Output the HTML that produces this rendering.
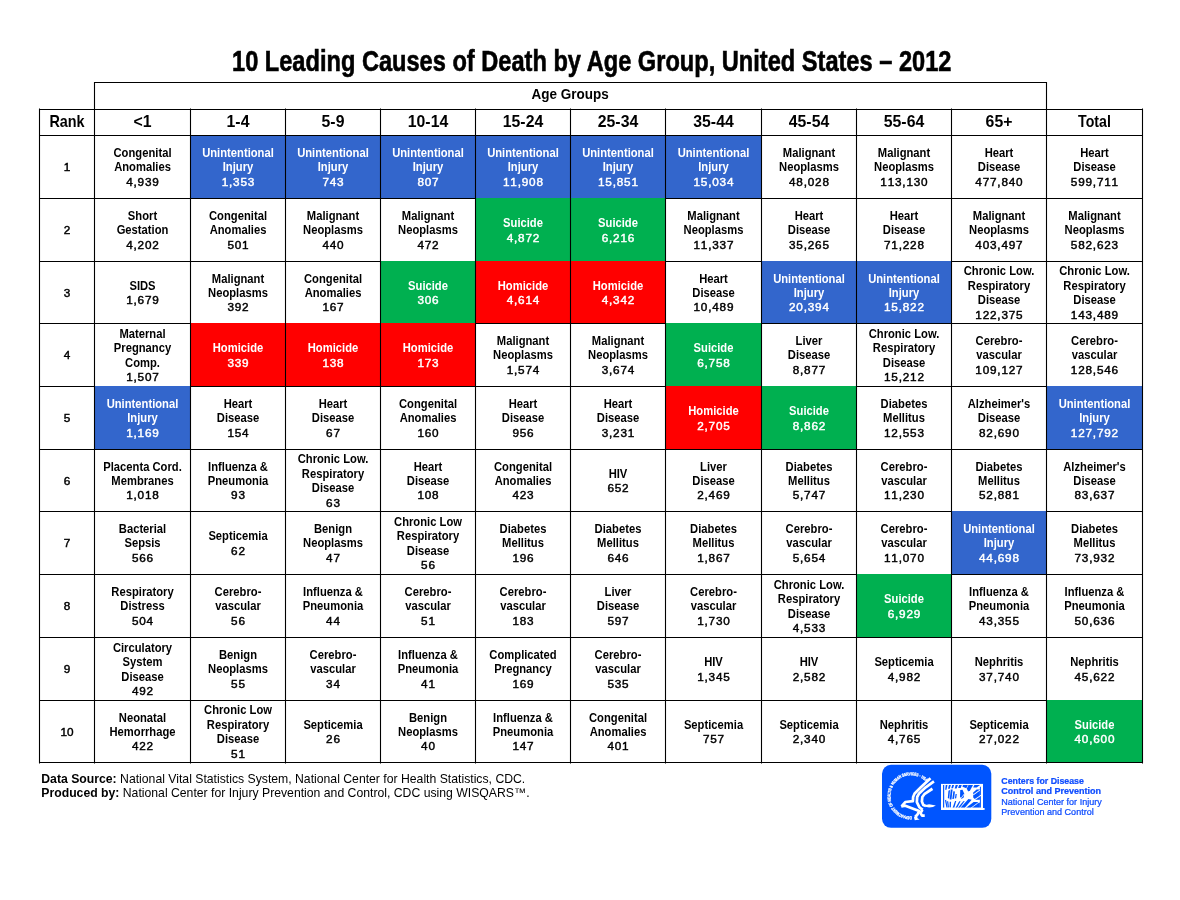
<!DOCTYPE html>
<html lang="en"><head><meta charset="utf-8"><title>10 Leading Causes of Death by Age Group, United States – 2012</title>
<style>html,body{margin:0;padding:0;background:#fff}body{width:1180px;height:900px;position:relative;overflow:hidden}</style></head>
<body>
<svg width="1180" height="900" viewBox="0 0 1180 900" style="position:absolute;left:0;top:0">
<rect width="1180" height="900" fill="#fff"/>
<g stroke="#000" stroke-width="1.1" fill="none">
<path d="M39.50 198.50 H1142.50"/>
<path d="M39.50 261.50 H1142.50"/>
<path d="M39.50 323.50 H1142.50"/>
<path d="M39.50 386.50 H1142.50"/>
<path d="M39.50 449.50 H1142.50"/>
<path d="M39.50 511.50 H1142.50"/>
<path d="M39.50 574.50 H1142.50"/>
<path d="M39.50 637.50 H1142.50"/>
<path d="M39.50 700.50 H1142.50"/>
<path d="M39.50 762.50 H1142.50"/>
</g>
<rect x="190.00" y="135.00" width="95.00" height="63.00" fill="#3366cc"/>
<rect x="285.00" y="135.00" width="95.00" height="63.00" fill="#3366cc"/>
<rect x="380.00" y="135.00" width="95.00" height="63.00" fill="#3366cc"/>
<rect x="475.00" y="135.00" width="95.00" height="63.00" fill="#3366cc"/>
<rect x="570.00" y="135.00" width="95.00" height="63.00" fill="#3366cc"/>
<rect x="665.00" y="135.00" width="96.00" height="63.00" fill="#3366cc"/>
<rect x="475.00" y="198.00" width="95.00" height="63.00" fill="#00b050"/>
<rect x="570.00" y="198.00" width="95.00" height="63.00" fill="#00b050"/>
<rect x="380.00" y="261.00" width="95.00" height="62.00" fill="#00b050"/>
<rect x="475.00" y="261.00" width="95.00" height="62.00" fill="#ff0000"/>
<rect x="570.00" y="261.00" width="95.00" height="62.00" fill="#ff0000"/>
<rect x="761.00" y="261.00" width="95.00" height="62.00" fill="#3366cc"/>
<rect x="856.00" y="261.00" width="95.00" height="62.00" fill="#3366cc"/>
<rect x="190.00" y="323.00" width="95.00" height="63.00" fill="#ff0000"/>
<rect x="285.00" y="323.00" width="95.00" height="63.00" fill="#ff0000"/>
<rect x="380.00" y="323.00" width="95.00" height="63.00" fill="#ff0000"/>
<rect x="665.00" y="323.00" width="96.00" height="63.00" fill="#00b050"/>
<rect x="94.00" y="386.00" width="96.00" height="63.00" fill="#3366cc"/>
<rect x="665.00" y="386.00" width="96.00" height="63.00" fill="#ff0000"/>
<rect x="761.00" y="386.00" width="95.00" height="63.00" fill="#00b050"/>
<rect x="1046.00" y="386.00" width="96.00" height="63.00" fill="#3366cc"/>
<rect x="951.00" y="511.00" width="95.00" height="63.00" fill="#3366cc"/>
<rect x="856.00" y="574.00" width="95.00" height="63.00" fill="#00b050"/>
<rect x="1046.00" y="700.00" width="96.00" height="62.00" fill="#00b050"/>
<g stroke="#000" stroke-width="1.1" fill="none">
<path d="M94.50 109.50 V82.50 H1046.50 V109.50"/>
<path d="M39.50 109.50 H1142.50"/>
<path d="M39.50 135.50 H1142.50"/>
<path d="M39.50 762.50 H1142.50"/>
<path d="M39.50 108.50 V763.50"/>
<path d="M94.50 108.50 V763.50"/>
<path d="M190.50 108.50 V763.50"/>
<path d="M285.50 108.50 V763.50"/>
<path d="M380.50 108.50 V763.50"/>
<path d="M475.50 108.50 V763.50"/>
<path d="M570.50 108.50 V763.50"/>
<path d="M665.50 108.50 V763.50"/>
<path d="M761.50 108.50 V763.50"/>
<path d="M856.50 108.50 V763.50"/>
<path d="M951.50 108.50 V763.50"/>
<path d="M1046.50 108.50 V763.50"/>
<path d="M1142.50 108.50 V763.50"/>
</g>
<g font-family="'Liberation Sans', Arial, sans-serif">
<text transform="translate(591.70 70.60) scale(0.820 1)" font-size="28.80" fill="#000" text-anchor="middle" font-weight="bold" stroke="#000" stroke-width="0.6">10 Leading Causes of Death by Age Group, United States – 2012</text>
<text transform="translate(570.20 99.30) scale(0.925 1)" font-size="14.60" fill="#000" text-anchor="middle" font-weight="bold">Age Groups</text>
<text transform="translate(67.00 126.60) scale(0.900 1)" font-size="16.00" fill="#000" text-anchor="middle" font-weight="bold">Rank</text>
<text transform="translate(142.50 126.70) scale(0.970 1)" font-size="16.30" fill="#000" text-anchor="middle" font-weight="bold" style="font-kerning:none">&lt;1</text>
<text transform="translate(238.00 126.70) scale(0.970 1)" font-size="16.30" fill="#000" text-anchor="middle" font-weight="bold" style="font-kerning:none">1-4</text>
<text transform="translate(333.00 126.70) scale(0.970 1)" font-size="16.30" fill="#000" text-anchor="middle" font-weight="bold" style="font-kerning:none">5-9</text>
<text transform="translate(428.00 126.70) scale(0.970 1)" font-size="16.30" fill="#000" text-anchor="middle" font-weight="bold" style="font-kerning:none">10-14</text>
<text transform="translate(523.00 126.70) scale(0.970 1)" font-size="16.30" fill="#000" text-anchor="middle" font-weight="bold" style="font-kerning:none">15-24</text>
<text transform="translate(618.00 126.70) scale(0.970 1)" font-size="16.30" fill="#000" text-anchor="middle" font-weight="bold" style="font-kerning:none">25-34</text>
<text transform="translate(713.50 126.70) scale(0.970 1)" font-size="16.30" fill="#000" text-anchor="middle" font-weight="bold" style="font-kerning:none">35-44</text>
<text transform="translate(809.00 126.70) scale(0.970 1)" font-size="16.30" fill="#000" text-anchor="middle" font-weight="bold" style="font-kerning:none">45-54</text>
<text transform="translate(904.00 126.70) scale(0.970 1)" font-size="16.30" fill="#000" text-anchor="middle" font-weight="bold" style="font-kerning:none">55-64</text>
<text transform="translate(999.00 126.70) scale(0.970 1)" font-size="16.30" fill="#000" text-anchor="middle" font-weight="bold" style="font-kerning:none">65+</text>
<text transform="translate(1094.50 126.60) scale(0.886 1)" font-size="16.00" fill="#000" text-anchor="middle" font-weight="bold">Total</text>
<text transform="translate(67.00 171.25) scale(1.020 1)" font-size="11.55" fill="#000" text-anchor="middle" font-weight="normal" stroke="#000" stroke-width="0.45" style="font-kerning:none">1</text>
<text transform="translate(142.50 157.00) scale(0.920 1)" font-size="12.20" fill="#000" text-anchor="middle" font-weight="bold">Congenital</text>
<text transform="translate(142.50 171.45) scale(0.920 1)" font-size="12.20" fill="#000" text-anchor="middle" font-weight="bold">Anomalies</text>
<text transform="translate(142.90 185.90) scale(1.020 1)" font-size="11.55" fill="#000" text-anchor="middle" font-weight="normal" stroke="#000" stroke-width="0.45" letter-spacing="0.78" style="font-kerning:none">4,939</text>
<text transform="translate(238.00 157.00) scale(0.920 1)" font-size="12.20" fill="#fff" text-anchor="middle" font-weight="bold">Unintentional</text>
<text transform="translate(238.00 171.45) scale(0.920 1)" font-size="12.20" fill="#fff" text-anchor="middle" font-weight="bold">Injury</text>
<text transform="translate(238.40 185.90) scale(1.020 1)" font-size="11.55" fill="#fff" text-anchor="middle" font-weight="normal" stroke="#fff" stroke-width="0.45" letter-spacing="0.78" style="font-kerning:none">1,353</text>
<text transform="translate(333.00 157.00) scale(0.920 1)" font-size="12.20" fill="#fff" text-anchor="middle" font-weight="bold">Unintentional</text>
<text transform="translate(333.00 171.45) scale(0.920 1)" font-size="12.20" fill="#fff" text-anchor="middle" font-weight="bold">Injury</text>
<text transform="translate(333.40 185.90) scale(1.020 1)" font-size="11.55" fill="#fff" text-anchor="middle" font-weight="normal" stroke="#fff" stroke-width="0.45" letter-spacing="0.78" style="font-kerning:none">743</text>
<text transform="translate(428.00 157.00) scale(0.920 1)" font-size="12.20" fill="#fff" text-anchor="middle" font-weight="bold">Unintentional</text>
<text transform="translate(428.00 171.45) scale(0.920 1)" font-size="12.20" fill="#fff" text-anchor="middle" font-weight="bold">Injury</text>
<text transform="translate(428.40 185.90) scale(1.020 1)" font-size="11.55" fill="#fff" text-anchor="middle" font-weight="normal" stroke="#fff" stroke-width="0.45" letter-spacing="0.78" style="font-kerning:none">807</text>
<text transform="translate(523.00 157.00) scale(0.920 1)" font-size="12.20" fill="#fff" text-anchor="middle" font-weight="bold">Unintentional</text>
<text transform="translate(523.00 171.45) scale(0.920 1)" font-size="12.20" fill="#fff" text-anchor="middle" font-weight="bold">Injury</text>
<text transform="translate(523.40 185.90) scale(1.020 1)" font-size="11.55" fill="#fff" text-anchor="middle" font-weight="normal" stroke="#fff" stroke-width="0.45" letter-spacing="0.78" style="font-kerning:none">11,908</text>
<text transform="translate(618.00 157.00) scale(0.920 1)" font-size="12.20" fill="#fff" text-anchor="middle" font-weight="bold">Unintentional</text>
<text transform="translate(618.00 171.45) scale(0.920 1)" font-size="12.20" fill="#fff" text-anchor="middle" font-weight="bold">Injury</text>
<text transform="translate(618.40 185.90) scale(1.020 1)" font-size="11.55" fill="#fff" text-anchor="middle" font-weight="normal" stroke="#fff" stroke-width="0.45" letter-spacing="0.78" style="font-kerning:none">15,851</text>
<text transform="translate(713.50 157.00) scale(0.920 1)" font-size="12.20" fill="#fff" text-anchor="middle" font-weight="bold">Unintentional</text>
<text transform="translate(713.50 171.45) scale(0.920 1)" font-size="12.20" fill="#fff" text-anchor="middle" font-weight="bold">Injury</text>
<text transform="translate(713.90 185.90) scale(1.020 1)" font-size="11.55" fill="#fff" text-anchor="middle" font-weight="normal" stroke="#fff" stroke-width="0.45" letter-spacing="0.78" style="font-kerning:none">15,034</text>
<text transform="translate(809.00 157.00) scale(0.920 1)" font-size="12.20" fill="#000" text-anchor="middle" font-weight="bold">Malignant</text>
<text transform="translate(809.00 171.45) scale(0.920 1)" font-size="12.20" fill="#000" text-anchor="middle" font-weight="bold">Neoplasms</text>
<text transform="translate(809.40 185.90) scale(1.020 1)" font-size="11.55" fill="#000" text-anchor="middle" font-weight="normal" stroke="#000" stroke-width="0.45" letter-spacing="0.78" style="font-kerning:none">48,028</text>
<text transform="translate(904.00 157.00) scale(0.920 1)" font-size="12.20" fill="#000" text-anchor="middle" font-weight="bold">Malignant</text>
<text transform="translate(904.00 171.45) scale(0.920 1)" font-size="12.20" fill="#000" text-anchor="middle" font-weight="bold">Neoplasms</text>
<text transform="translate(904.40 185.90) scale(1.020 1)" font-size="11.55" fill="#000" text-anchor="middle" font-weight="normal" stroke="#000" stroke-width="0.45" letter-spacing="0.78" style="font-kerning:none">113,130</text>
<text transform="translate(999.00 157.00) scale(0.920 1)" font-size="12.20" fill="#000" text-anchor="middle" font-weight="bold">Heart</text>
<text transform="translate(999.00 171.45) scale(0.920 1)" font-size="12.20" fill="#000" text-anchor="middle" font-weight="bold">Disease</text>
<text transform="translate(999.40 185.90) scale(1.020 1)" font-size="11.55" fill="#000" text-anchor="middle" font-weight="normal" stroke="#000" stroke-width="0.45" letter-spacing="0.78" style="font-kerning:none">477,840</text>
<text transform="translate(1094.50 157.00) scale(0.920 1)" font-size="12.20" fill="#000" text-anchor="middle" font-weight="bold">Heart</text>
<text transform="translate(1094.50 171.45) scale(0.920 1)" font-size="12.20" fill="#000" text-anchor="middle" font-weight="bold">Disease</text>
<text transform="translate(1094.90 185.90) scale(1.020 1)" font-size="11.55" fill="#000" text-anchor="middle" font-weight="normal" stroke="#000" stroke-width="0.45" letter-spacing="0.78" style="font-kerning:none">599,711</text>
<text transform="translate(67.00 234.25) scale(1.020 1)" font-size="11.55" fill="#000" text-anchor="middle" font-weight="normal" stroke="#000" stroke-width="0.45" style="font-kerning:none">2</text>
<text transform="translate(142.50 220.00) scale(0.920 1)" font-size="12.20" fill="#000" text-anchor="middle" font-weight="bold">Short</text>
<text transform="translate(142.50 234.45) scale(0.920 1)" font-size="12.20" fill="#000" text-anchor="middle" font-weight="bold">Gestation</text>
<text transform="translate(142.90 248.90) scale(1.020 1)" font-size="11.55" fill="#000" text-anchor="middle" font-weight="normal" stroke="#000" stroke-width="0.45" letter-spacing="0.78" style="font-kerning:none">4,202</text>
<text transform="translate(238.00 220.00) scale(0.920 1)" font-size="12.20" fill="#000" text-anchor="middle" font-weight="bold">Congenital</text>
<text transform="translate(238.00 234.45) scale(0.920 1)" font-size="12.20" fill="#000" text-anchor="middle" font-weight="bold">Anomalies</text>
<text transform="translate(238.40 248.90) scale(1.020 1)" font-size="11.55" fill="#000" text-anchor="middle" font-weight="normal" stroke="#000" stroke-width="0.45" letter-spacing="0.78" style="font-kerning:none">501</text>
<text transform="translate(333.00 220.00) scale(0.920 1)" font-size="12.20" fill="#000" text-anchor="middle" font-weight="bold">Malignant</text>
<text transform="translate(333.00 234.45) scale(0.920 1)" font-size="12.20" fill="#000" text-anchor="middle" font-weight="bold">Neoplasms</text>
<text transform="translate(333.40 248.90) scale(1.020 1)" font-size="11.55" fill="#000" text-anchor="middle" font-weight="normal" stroke="#000" stroke-width="0.45" letter-spacing="0.78" style="font-kerning:none">440</text>
<text transform="translate(428.00 220.00) scale(0.920 1)" font-size="12.20" fill="#000" text-anchor="middle" font-weight="bold">Malignant</text>
<text transform="translate(428.00 234.45) scale(0.920 1)" font-size="12.20" fill="#000" text-anchor="middle" font-weight="bold">Neoplasms</text>
<text transform="translate(428.40 248.90) scale(1.020 1)" font-size="11.55" fill="#000" text-anchor="middle" font-weight="normal" stroke="#000" stroke-width="0.45" letter-spacing="0.78" style="font-kerning:none">472</text>
<text transform="translate(523.00 227.22) scale(0.920 1)" font-size="12.20" fill="#fff" text-anchor="middle" font-weight="bold">Suicide</text>
<text transform="translate(523.40 241.67) scale(1.020 1)" font-size="11.55" fill="#fff" text-anchor="middle" font-weight="normal" stroke="#fff" stroke-width="0.45" letter-spacing="0.78" style="font-kerning:none">4,872</text>
<text transform="translate(618.00 227.22) scale(0.920 1)" font-size="12.20" fill="#fff" text-anchor="middle" font-weight="bold">Suicide</text>
<text transform="translate(618.40 241.67) scale(1.020 1)" font-size="11.55" fill="#fff" text-anchor="middle" font-weight="normal" stroke="#fff" stroke-width="0.45" letter-spacing="0.78" style="font-kerning:none">6,216</text>
<text transform="translate(713.50 220.00) scale(0.920 1)" font-size="12.20" fill="#000" text-anchor="middle" font-weight="bold">Malignant</text>
<text transform="translate(713.50 234.45) scale(0.920 1)" font-size="12.20" fill="#000" text-anchor="middle" font-weight="bold">Neoplasms</text>
<text transform="translate(713.90 248.90) scale(1.020 1)" font-size="11.55" fill="#000" text-anchor="middle" font-weight="normal" stroke="#000" stroke-width="0.45" letter-spacing="0.78" style="font-kerning:none">11,337</text>
<text transform="translate(809.00 220.00) scale(0.920 1)" font-size="12.20" fill="#000" text-anchor="middle" font-weight="bold">Heart</text>
<text transform="translate(809.00 234.45) scale(0.920 1)" font-size="12.20" fill="#000" text-anchor="middle" font-weight="bold">Disease</text>
<text transform="translate(809.40 248.90) scale(1.020 1)" font-size="11.55" fill="#000" text-anchor="middle" font-weight="normal" stroke="#000" stroke-width="0.45" letter-spacing="0.78" style="font-kerning:none">35,265</text>
<text transform="translate(904.00 220.00) scale(0.920 1)" font-size="12.20" fill="#000" text-anchor="middle" font-weight="bold">Heart</text>
<text transform="translate(904.00 234.45) scale(0.920 1)" font-size="12.20" fill="#000" text-anchor="middle" font-weight="bold">Disease</text>
<text transform="translate(904.40 248.90) scale(1.020 1)" font-size="11.55" fill="#000" text-anchor="middle" font-weight="normal" stroke="#000" stroke-width="0.45" letter-spacing="0.78" style="font-kerning:none">71,228</text>
<text transform="translate(999.00 220.00) scale(0.920 1)" font-size="12.20" fill="#000" text-anchor="middle" font-weight="bold">Malignant</text>
<text transform="translate(999.00 234.45) scale(0.920 1)" font-size="12.20" fill="#000" text-anchor="middle" font-weight="bold">Neoplasms</text>
<text transform="translate(999.40 248.90) scale(1.020 1)" font-size="11.55" fill="#000" text-anchor="middle" font-weight="normal" stroke="#000" stroke-width="0.45" letter-spacing="0.78" style="font-kerning:none">403,497</text>
<text transform="translate(1094.50 220.00) scale(0.920 1)" font-size="12.20" fill="#000" text-anchor="middle" font-weight="bold">Malignant</text>
<text transform="translate(1094.50 234.45) scale(0.920 1)" font-size="12.20" fill="#000" text-anchor="middle" font-weight="bold">Neoplasms</text>
<text transform="translate(1094.90 248.90) scale(1.020 1)" font-size="11.55" fill="#000" text-anchor="middle" font-weight="normal" stroke="#000" stroke-width="0.45" letter-spacing="0.78" style="font-kerning:none">582,623</text>
<text transform="translate(67.00 296.75) scale(1.020 1)" font-size="11.55" fill="#000" text-anchor="middle" font-weight="normal" stroke="#000" stroke-width="0.45" style="font-kerning:none">3</text>
<text transform="translate(142.50 289.72) scale(0.920 1)" font-size="12.20" fill="#000" text-anchor="middle" font-weight="bold">SIDS</text>
<text transform="translate(142.90 304.17) scale(1.020 1)" font-size="11.55" fill="#000" text-anchor="middle" font-weight="normal" stroke="#000" stroke-width="0.45" letter-spacing="0.78" style="font-kerning:none">1,679</text>
<text transform="translate(238.00 282.50) scale(0.920 1)" font-size="12.20" fill="#000" text-anchor="middle" font-weight="bold">Malignant</text>
<text transform="translate(238.00 296.95) scale(0.920 1)" font-size="12.20" fill="#000" text-anchor="middle" font-weight="bold">Neoplasms</text>
<text transform="translate(238.40 311.40) scale(1.020 1)" font-size="11.55" fill="#000" text-anchor="middle" font-weight="normal" stroke="#000" stroke-width="0.45" letter-spacing="0.78" style="font-kerning:none">392</text>
<text transform="translate(333.00 282.50) scale(0.920 1)" font-size="12.20" fill="#000" text-anchor="middle" font-weight="bold">Congenital</text>
<text transform="translate(333.00 296.95) scale(0.920 1)" font-size="12.20" fill="#000" text-anchor="middle" font-weight="bold">Anomalies</text>
<text transform="translate(333.40 311.40) scale(1.020 1)" font-size="11.55" fill="#000" text-anchor="middle" font-weight="normal" stroke="#000" stroke-width="0.45" letter-spacing="0.78" style="font-kerning:none">167</text>
<text transform="translate(428.00 289.72) scale(0.920 1)" font-size="12.20" fill="#fff" text-anchor="middle" font-weight="bold">Suicide</text>
<text transform="translate(428.40 304.17) scale(1.020 1)" font-size="11.55" fill="#fff" text-anchor="middle" font-weight="normal" stroke="#fff" stroke-width="0.45" letter-spacing="0.78" style="font-kerning:none">306</text>
<text transform="translate(523.00 289.72) scale(0.920 1)" font-size="12.20" fill="#fff" text-anchor="middle" font-weight="bold">Homicide</text>
<text transform="translate(523.40 304.17) scale(1.020 1)" font-size="11.55" fill="#fff" text-anchor="middle" font-weight="normal" stroke="#fff" stroke-width="0.45" letter-spacing="0.78" style="font-kerning:none">4,614</text>
<text transform="translate(618.00 289.72) scale(0.920 1)" font-size="12.20" fill="#fff" text-anchor="middle" font-weight="bold">Homicide</text>
<text transform="translate(618.40 304.17) scale(1.020 1)" font-size="11.55" fill="#fff" text-anchor="middle" font-weight="normal" stroke="#fff" stroke-width="0.45" letter-spacing="0.78" style="font-kerning:none">4,342</text>
<text transform="translate(713.50 282.50) scale(0.920 1)" font-size="12.20" fill="#000" text-anchor="middle" font-weight="bold">Heart</text>
<text transform="translate(713.50 296.95) scale(0.920 1)" font-size="12.20" fill="#000" text-anchor="middle" font-weight="bold">Disease</text>
<text transform="translate(713.90 311.40) scale(1.020 1)" font-size="11.55" fill="#000" text-anchor="middle" font-weight="normal" stroke="#000" stroke-width="0.45" letter-spacing="0.78" style="font-kerning:none">10,489</text>
<text transform="translate(809.00 282.50) scale(0.920 1)" font-size="12.20" fill="#fff" text-anchor="middle" font-weight="bold">Unintentional</text>
<text transform="translate(809.00 296.95) scale(0.920 1)" font-size="12.20" fill="#fff" text-anchor="middle" font-weight="bold">Injury</text>
<text transform="translate(809.40 311.40) scale(1.020 1)" font-size="11.55" fill="#fff" text-anchor="middle" font-weight="normal" stroke="#fff" stroke-width="0.45" letter-spacing="0.78" style="font-kerning:none">20,394</text>
<text transform="translate(904.00 282.50) scale(0.920 1)" font-size="12.20" fill="#fff" text-anchor="middle" font-weight="bold">Unintentional</text>
<text transform="translate(904.00 296.95) scale(0.920 1)" font-size="12.20" fill="#fff" text-anchor="middle" font-weight="bold">Injury</text>
<text transform="translate(904.40 311.40) scale(1.020 1)" font-size="11.55" fill="#fff" text-anchor="middle" font-weight="normal" stroke="#fff" stroke-width="0.45" letter-spacing="0.78" style="font-kerning:none">15,822</text>
<text transform="translate(999.00 275.27) scale(0.920 1)" font-size="12.20" fill="#000" text-anchor="middle" font-weight="bold">Chronic Low.</text>
<text transform="translate(999.00 289.72) scale(0.920 1)" font-size="12.20" fill="#000" text-anchor="middle" font-weight="bold">Respiratory</text>
<text transform="translate(999.00 304.17) scale(0.920 1)" font-size="12.20" fill="#000" text-anchor="middle" font-weight="bold">Disease</text>
<text transform="translate(999.40 318.62) scale(1.020 1)" font-size="11.55" fill="#000" text-anchor="middle" font-weight="normal" stroke="#000" stroke-width="0.45" letter-spacing="0.78" style="font-kerning:none">122,375</text>
<text transform="translate(1094.50 275.27) scale(0.920 1)" font-size="12.20" fill="#000" text-anchor="middle" font-weight="bold">Chronic Low.</text>
<text transform="translate(1094.50 289.72) scale(0.920 1)" font-size="12.20" fill="#000" text-anchor="middle" font-weight="bold">Respiratory</text>
<text transform="translate(1094.50 304.17) scale(0.920 1)" font-size="12.20" fill="#000" text-anchor="middle" font-weight="bold">Disease</text>
<text transform="translate(1094.90 318.62) scale(1.020 1)" font-size="11.55" fill="#000" text-anchor="middle" font-weight="normal" stroke="#000" stroke-width="0.45" letter-spacing="0.78" style="font-kerning:none">143,489</text>
<text transform="translate(67.00 359.25) scale(1.020 1)" font-size="11.55" fill="#000" text-anchor="middle" font-weight="normal" stroke="#000" stroke-width="0.45" style="font-kerning:none">4</text>
<text transform="translate(142.50 337.77) scale(0.920 1)" font-size="12.20" fill="#000" text-anchor="middle" font-weight="bold">Maternal</text>
<text transform="translate(142.50 352.22) scale(0.920 1)" font-size="12.20" fill="#000" text-anchor="middle" font-weight="bold">Pregnancy</text>
<text transform="translate(142.50 366.67) scale(0.920 1)" font-size="12.20" fill="#000" text-anchor="middle" font-weight="bold">Comp.</text>
<text transform="translate(142.90 381.12) scale(1.020 1)" font-size="11.55" fill="#000" text-anchor="middle" font-weight="normal" stroke="#000" stroke-width="0.45" letter-spacing="0.78" style="font-kerning:none">1,507</text>
<text transform="translate(238.00 352.22) scale(0.920 1)" font-size="12.20" fill="#fff" text-anchor="middle" font-weight="bold">Homicide</text>
<text transform="translate(238.40 366.67) scale(1.020 1)" font-size="11.55" fill="#fff" text-anchor="middle" font-weight="normal" stroke="#fff" stroke-width="0.45" letter-spacing="0.78" style="font-kerning:none">339</text>
<text transform="translate(333.00 352.22) scale(0.920 1)" font-size="12.20" fill="#fff" text-anchor="middle" font-weight="bold">Homicide</text>
<text transform="translate(333.40 366.67) scale(1.020 1)" font-size="11.55" fill="#fff" text-anchor="middle" font-weight="normal" stroke="#fff" stroke-width="0.45" letter-spacing="0.78" style="font-kerning:none">138</text>
<text transform="translate(428.00 352.22) scale(0.920 1)" font-size="12.20" fill="#fff" text-anchor="middle" font-weight="bold">Homicide</text>
<text transform="translate(428.40 366.67) scale(1.020 1)" font-size="11.55" fill="#fff" text-anchor="middle" font-weight="normal" stroke="#fff" stroke-width="0.45" letter-spacing="0.78" style="font-kerning:none">173</text>
<text transform="translate(523.00 345.00) scale(0.920 1)" font-size="12.20" fill="#000" text-anchor="middle" font-weight="bold">Malignant</text>
<text transform="translate(523.00 359.45) scale(0.920 1)" font-size="12.20" fill="#000" text-anchor="middle" font-weight="bold">Neoplasms</text>
<text transform="translate(523.40 373.90) scale(1.020 1)" font-size="11.55" fill="#000" text-anchor="middle" font-weight="normal" stroke="#000" stroke-width="0.45" letter-spacing="0.78" style="font-kerning:none">1,574</text>
<text transform="translate(618.00 345.00) scale(0.920 1)" font-size="12.20" fill="#000" text-anchor="middle" font-weight="bold">Malignant</text>
<text transform="translate(618.00 359.45) scale(0.920 1)" font-size="12.20" fill="#000" text-anchor="middle" font-weight="bold">Neoplasms</text>
<text transform="translate(618.40 373.90) scale(1.020 1)" font-size="11.55" fill="#000" text-anchor="middle" font-weight="normal" stroke="#000" stroke-width="0.45" letter-spacing="0.78" style="font-kerning:none">3,674</text>
<text transform="translate(713.50 352.22) scale(0.920 1)" font-size="12.20" fill="#fff" text-anchor="middle" font-weight="bold">Suicide</text>
<text transform="translate(713.90 366.67) scale(1.020 1)" font-size="11.55" fill="#fff" text-anchor="middle" font-weight="normal" stroke="#fff" stroke-width="0.45" letter-spacing="0.78" style="font-kerning:none">6,758</text>
<text transform="translate(809.00 345.00) scale(0.920 1)" font-size="12.20" fill="#000" text-anchor="middle" font-weight="bold">Liver</text>
<text transform="translate(809.00 359.45) scale(0.920 1)" font-size="12.20" fill="#000" text-anchor="middle" font-weight="bold">Disease</text>
<text transform="translate(809.40 373.90) scale(1.020 1)" font-size="11.55" fill="#000" text-anchor="middle" font-weight="normal" stroke="#000" stroke-width="0.45" letter-spacing="0.78" style="font-kerning:none">8,877</text>
<text transform="translate(904.00 337.77) scale(0.920 1)" font-size="12.20" fill="#000" text-anchor="middle" font-weight="bold">Chronic Low.</text>
<text transform="translate(904.00 352.22) scale(0.920 1)" font-size="12.20" fill="#000" text-anchor="middle" font-weight="bold">Respiratory</text>
<text transform="translate(904.00 366.67) scale(0.920 1)" font-size="12.20" fill="#000" text-anchor="middle" font-weight="bold">Disease</text>
<text transform="translate(904.40 381.12) scale(1.020 1)" font-size="11.55" fill="#000" text-anchor="middle" font-weight="normal" stroke="#000" stroke-width="0.45" letter-spacing="0.78" style="font-kerning:none">15,212</text>
<text transform="translate(999.00 345.00) scale(0.920 1)" font-size="12.20" fill="#000" text-anchor="middle" font-weight="bold">Cerebro-</text>
<text transform="translate(999.00 359.45) scale(0.920 1)" font-size="12.20" fill="#000" text-anchor="middle" font-weight="bold">vascular</text>
<text transform="translate(999.40 373.90) scale(1.020 1)" font-size="11.55" fill="#000" text-anchor="middle" font-weight="normal" stroke="#000" stroke-width="0.45" letter-spacing="0.78" style="font-kerning:none">109,127</text>
<text transform="translate(1094.50 345.00) scale(0.920 1)" font-size="12.20" fill="#000" text-anchor="middle" font-weight="bold">Cerebro-</text>
<text transform="translate(1094.50 359.45) scale(0.920 1)" font-size="12.20" fill="#000" text-anchor="middle" font-weight="bold">vascular</text>
<text transform="translate(1094.90 373.90) scale(1.020 1)" font-size="11.55" fill="#000" text-anchor="middle" font-weight="normal" stroke="#000" stroke-width="0.45" letter-spacing="0.78" style="font-kerning:none">128,546</text>
<text transform="translate(67.00 422.25) scale(1.020 1)" font-size="11.55" fill="#000" text-anchor="middle" font-weight="normal" stroke="#000" stroke-width="0.45" style="font-kerning:none">5</text>
<text transform="translate(142.50 408.00) scale(0.920 1)" font-size="12.20" fill="#fff" text-anchor="middle" font-weight="bold">Unintentional</text>
<text transform="translate(142.50 422.45) scale(0.920 1)" font-size="12.20" fill="#fff" text-anchor="middle" font-weight="bold">Injury</text>
<text transform="translate(142.90 436.90) scale(1.020 1)" font-size="11.55" fill="#fff" text-anchor="middle" font-weight="normal" stroke="#fff" stroke-width="0.45" letter-spacing="0.78" style="font-kerning:none">1,169</text>
<text transform="translate(238.00 408.00) scale(0.920 1)" font-size="12.20" fill="#000" text-anchor="middle" font-weight="bold">Heart</text>
<text transform="translate(238.00 422.45) scale(0.920 1)" font-size="12.20" fill="#000" text-anchor="middle" font-weight="bold">Disease</text>
<text transform="translate(238.40 436.90) scale(1.020 1)" font-size="11.55" fill="#000" text-anchor="middle" font-weight="normal" stroke="#000" stroke-width="0.45" letter-spacing="0.78" style="font-kerning:none">154</text>
<text transform="translate(333.00 408.00) scale(0.920 1)" font-size="12.20" fill="#000" text-anchor="middle" font-weight="bold">Heart</text>
<text transform="translate(333.00 422.45) scale(0.920 1)" font-size="12.20" fill="#000" text-anchor="middle" font-weight="bold">Disease</text>
<text transform="translate(333.40 436.90) scale(1.020 1)" font-size="11.55" fill="#000" text-anchor="middle" font-weight="normal" stroke="#000" stroke-width="0.45" letter-spacing="0.78" style="font-kerning:none">67</text>
<text transform="translate(428.00 408.00) scale(0.920 1)" font-size="12.20" fill="#000" text-anchor="middle" font-weight="bold">Congenital</text>
<text transform="translate(428.00 422.45) scale(0.920 1)" font-size="12.20" fill="#000" text-anchor="middle" font-weight="bold">Anomalies</text>
<text transform="translate(428.40 436.90) scale(1.020 1)" font-size="11.55" fill="#000" text-anchor="middle" font-weight="normal" stroke="#000" stroke-width="0.45" letter-spacing="0.78" style="font-kerning:none">160</text>
<text transform="translate(523.00 408.00) scale(0.920 1)" font-size="12.20" fill="#000" text-anchor="middle" font-weight="bold">Heart</text>
<text transform="translate(523.00 422.45) scale(0.920 1)" font-size="12.20" fill="#000" text-anchor="middle" font-weight="bold">Disease</text>
<text transform="translate(523.40 436.90) scale(1.020 1)" font-size="11.55" fill="#000" text-anchor="middle" font-weight="normal" stroke="#000" stroke-width="0.45" letter-spacing="0.78" style="font-kerning:none">956</text>
<text transform="translate(618.00 408.00) scale(0.920 1)" font-size="12.20" fill="#000" text-anchor="middle" font-weight="bold">Heart</text>
<text transform="translate(618.00 422.45) scale(0.920 1)" font-size="12.20" fill="#000" text-anchor="middle" font-weight="bold">Disease</text>
<text transform="translate(618.40 436.90) scale(1.020 1)" font-size="11.55" fill="#000" text-anchor="middle" font-weight="normal" stroke="#000" stroke-width="0.45" letter-spacing="0.78" style="font-kerning:none">3,231</text>
<text transform="translate(713.50 415.22) scale(0.920 1)" font-size="12.20" fill="#fff" text-anchor="middle" font-weight="bold">Homicide</text>
<text transform="translate(713.90 429.67) scale(1.020 1)" font-size="11.55" fill="#fff" text-anchor="middle" font-weight="normal" stroke="#fff" stroke-width="0.45" letter-spacing="0.78" style="font-kerning:none">2,705</text>
<text transform="translate(809.00 415.22) scale(0.920 1)" font-size="12.20" fill="#fff" text-anchor="middle" font-weight="bold">Suicide</text>
<text transform="translate(809.40 429.67) scale(1.020 1)" font-size="11.55" fill="#fff" text-anchor="middle" font-weight="normal" stroke="#fff" stroke-width="0.45" letter-spacing="0.78" style="font-kerning:none">8,862</text>
<text transform="translate(904.00 408.00) scale(0.920 1)" font-size="12.20" fill="#000" text-anchor="middle" font-weight="bold">Diabetes</text>
<text transform="translate(904.00 422.45) scale(0.920 1)" font-size="12.20" fill="#000" text-anchor="middle" font-weight="bold">Mellitus</text>
<text transform="translate(904.40 436.90) scale(1.020 1)" font-size="11.55" fill="#000" text-anchor="middle" font-weight="normal" stroke="#000" stroke-width="0.45" letter-spacing="0.78" style="font-kerning:none">12,553</text>
<text transform="translate(999.00 408.00) scale(0.920 1)" font-size="12.20" fill="#000" text-anchor="middle" font-weight="bold">Alzheimer&#x27;s</text>
<text transform="translate(999.00 422.45) scale(0.920 1)" font-size="12.20" fill="#000" text-anchor="middle" font-weight="bold">Disease</text>
<text transform="translate(999.40 436.90) scale(1.020 1)" font-size="11.55" fill="#000" text-anchor="middle" font-weight="normal" stroke="#000" stroke-width="0.45" letter-spacing="0.78" style="font-kerning:none">82,690</text>
<text transform="translate(1094.50 408.00) scale(0.920 1)" font-size="12.20" fill="#fff" text-anchor="middle" font-weight="bold">Unintentional</text>
<text transform="translate(1094.50 422.45) scale(0.920 1)" font-size="12.20" fill="#fff" text-anchor="middle" font-weight="bold">Injury</text>
<text transform="translate(1094.90 436.90) scale(1.020 1)" font-size="11.55" fill="#fff" text-anchor="middle" font-weight="normal" stroke="#fff" stroke-width="0.45" letter-spacing="0.78" style="font-kerning:none">127,792</text>
<text transform="translate(67.00 484.75) scale(1.020 1)" font-size="11.55" fill="#000" text-anchor="middle" font-weight="normal" stroke="#000" stroke-width="0.45" style="font-kerning:none">6</text>
<text transform="translate(142.50 470.50) scale(0.920 1)" font-size="12.20" fill="#000" text-anchor="middle" font-weight="bold">Placenta Cord.</text>
<text transform="translate(142.50 484.95) scale(0.920 1)" font-size="12.20" fill="#000" text-anchor="middle" font-weight="bold">Membranes</text>
<text transform="translate(142.90 499.40) scale(1.020 1)" font-size="11.55" fill="#000" text-anchor="middle" font-weight="normal" stroke="#000" stroke-width="0.45" letter-spacing="0.78" style="font-kerning:none">1,018</text>
<text transform="translate(238.00 470.50) scale(0.920 1)" font-size="12.20" fill="#000" text-anchor="middle" font-weight="bold">Influenza &amp;</text>
<text transform="translate(238.00 484.95) scale(0.920 1)" font-size="12.20" fill="#000" text-anchor="middle" font-weight="bold">Pneumonia</text>
<text transform="translate(238.40 499.40) scale(1.020 1)" font-size="11.55" fill="#000" text-anchor="middle" font-weight="normal" stroke="#000" stroke-width="0.45" letter-spacing="0.78" style="font-kerning:none">93</text>
<text transform="translate(333.00 463.27) scale(0.920 1)" font-size="12.20" fill="#000" text-anchor="middle" font-weight="bold">Chronic Low.</text>
<text transform="translate(333.00 477.72) scale(0.920 1)" font-size="12.20" fill="#000" text-anchor="middle" font-weight="bold">Respiratory</text>
<text transform="translate(333.00 492.17) scale(0.920 1)" font-size="12.20" fill="#000" text-anchor="middle" font-weight="bold">Disease</text>
<text transform="translate(333.40 506.62) scale(1.020 1)" font-size="11.55" fill="#000" text-anchor="middle" font-weight="normal" stroke="#000" stroke-width="0.45" letter-spacing="0.78" style="font-kerning:none">63</text>
<text transform="translate(428.00 470.50) scale(0.920 1)" font-size="12.20" fill="#000" text-anchor="middle" font-weight="bold">Heart</text>
<text transform="translate(428.00 484.95) scale(0.920 1)" font-size="12.20" fill="#000" text-anchor="middle" font-weight="bold">Disease</text>
<text transform="translate(428.40 499.40) scale(1.020 1)" font-size="11.55" fill="#000" text-anchor="middle" font-weight="normal" stroke="#000" stroke-width="0.45" letter-spacing="0.78" style="font-kerning:none">108</text>
<text transform="translate(523.00 470.50) scale(0.920 1)" font-size="12.20" fill="#000" text-anchor="middle" font-weight="bold">Congenital</text>
<text transform="translate(523.00 484.95) scale(0.920 1)" font-size="12.20" fill="#000" text-anchor="middle" font-weight="bold">Anomalies</text>
<text transform="translate(523.40 499.40) scale(1.020 1)" font-size="11.55" fill="#000" text-anchor="middle" font-weight="normal" stroke="#000" stroke-width="0.45" letter-spacing="0.78" style="font-kerning:none">423</text>
<text transform="translate(618.00 477.72) scale(0.920 1)" font-size="12.20" fill="#000" text-anchor="middle" font-weight="bold">HIV</text>
<text transform="translate(618.40 492.17) scale(1.020 1)" font-size="11.55" fill="#000" text-anchor="middle" font-weight="normal" stroke="#000" stroke-width="0.45" letter-spacing="0.78" style="font-kerning:none">652</text>
<text transform="translate(713.50 470.50) scale(0.920 1)" font-size="12.20" fill="#000" text-anchor="middle" font-weight="bold">Liver</text>
<text transform="translate(713.50 484.95) scale(0.920 1)" font-size="12.20" fill="#000" text-anchor="middle" font-weight="bold">Disease</text>
<text transform="translate(713.90 499.40) scale(1.020 1)" font-size="11.55" fill="#000" text-anchor="middle" font-weight="normal" stroke="#000" stroke-width="0.45" letter-spacing="0.78" style="font-kerning:none">2,469</text>
<text transform="translate(809.00 470.50) scale(0.920 1)" font-size="12.20" fill="#000" text-anchor="middle" font-weight="bold">Diabetes</text>
<text transform="translate(809.00 484.95) scale(0.920 1)" font-size="12.20" fill="#000" text-anchor="middle" font-weight="bold">Mellitus</text>
<text transform="translate(809.40 499.40) scale(1.020 1)" font-size="11.55" fill="#000" text-anchor="middle" font-weight="normal" stroke="#000" stroke-width="0.45" letter-spacing="0.78" style="font-kerning:none">5,747</text>
<text transform="translate(904.00 470.50) scale(0.920 1)" font-size="12.20" fill="#000" text-anchor="middle" font-weight="bold">Cerebro-</text>
<text transform="translate(904.00 484.95) scale(0.920 1)" font-size="12.20" fill="#000" text-anchor="middle" font-weight="bold">vascular</text>
<text transform="translate(904.40 499.40) scale(1.020 1)" font-size="11.55" fill="#000" text-anchor="middle" font-weight="normal" stroke="#000" stroke-width="0.45" letter-spacing="0.78" style="font-kerning:none">11,230</text>
<text transform="translate(999.00 470.50) scale(0.920 1)" font-size="12.20" fill="#000" text-anchor="middle" font-weight="bold">Diabetes</text>
<text transform="translate(999.00 484.95) scale(0.920 1)" font-size="12.20" fill="#000" text-anchor="middle" font-weight="bold">Mellitus</text>
<text transform="translate(999.40 499.40) scale(1.020 1)" font-size="11.55" fill="#000" text-anchor="middle" font-weight="normal" stroke="#000" stroke-width="0.45" letter-spacing="0.78" style="font-kerning:none">52,881</text>
<text transform="translate(1094.50 470.50) scale(0.920 1)" font-size="12.20" fill="#000" text-anchor="middle" font-weight="bold">Alzheimer&#x27;s</text>
<text transform="translate(1094.50 484.95) scale(0.920 1)" font-size="12.20" fill="#000" text-anchor="middle" font-weight="bold">Disease</text>
<text transform="translate(1094.90 499.40) scale(1.020 1)" font-size="11.55" fill="#000" text-anchor="middle" font-weight="normal" stroke="#000" stroke-width="0.45" letter-spacing="0.78" style="font-kerning:none">83,637</text>
<text transform="translate(67.00 547.25) scale(1.020 1)" font-size="11.55" fill="#000" text-anchor="middle" font-weight="normal" stroke="#000" stroke-width="0.45" style="font-kerning:none">7</text>
<text transform="translate(142.50 533.00) scale(0.920 1)" font-size="12.20" fill="#000" text-anchor="middle" font-weight="bold">Bacterial</text>
<text transform="translate(142.50 547.45) scale(0.920 1)" font-size="12.20" fill="#000" text-anchor="middle" font-weight="bold">Sepsis</text>
<text transform="translate(142.90 561.90) scale(1.020 1)" font-size="11.55" fill="#000" text-anchor="middle" font-weight="normal" stroke="#000" stroke-width="0.45" letter-spacing="0.78" style="font-kerning:none">566</text>
<text transform="translate(238.00 540.22) scale(0.920 1)" font-size="12.20" fill="#000" text-anchor="middle" font-weight="bold">Septicemia</text>
<text transform="translate(238.40 554.67) scale(1.020 1)" font-size="11.55" fill="#000" text-anchor="middle" font-weight="normal" stroke="#000" stroke-width="0.45" letter-spacing="0.78" style="font-kerning:none">62</text>
<text transform="translate(333.00 533.00) scale(0.920 1)" font-size="12.20" fill="#000" text-anchor="middle" font-weight="bold">Benign</text>
<text transform="translate(333.00 547.45) scale(0.920 1)" font-size="12.20" fill="#000" text-anchor="middle" font-weight="bold">Neoplasms</text>
<text transform="translate(333.40 561.90) scale(1.020 1)" font-size="11.55" fill="#000" text-anchor="middle" font-weight="normal" stroke="#000" stroke-width="0.45" letter-spacing="0.78" style="font-kerning:none">47</text>
<text transform="translate(428.00 525.77) scale(0.920 1)" font-size="12.20" fill="#000" text-anchor="middle" font-weight="bold">Chronic Low</text>
<text transform="translate(428.00 540.22) scale(0.920 1)" font-size="12.20" fill="#000" text-anchor="middle" font-weight="bold">Respiratory</text>
<text transform="translate(428.00 554.67) scale(0.920 1)" font-size="12.20" fill="#000" text-anchor="middle" font-weight="bold">Disease</text>
<text transform="translate(428.40 569.12) scale(1.020 1)" font-size="11.55" fill="#000" text-anchor="middle" font-weight="normal" stroke="#000" stroke-width="0.45" letter-spacing="0.78" style="font-kerning:none">56</text>
<text transform="translate(523.00 533.00) scale(0.920 1)" font-size="12.20" fill="#000" text-anchor="middle" font-weight="bold">Diabetes</text>
<text transform="translate(523.00 547.45) scale(0.920 1)" font-size="12.20" fill="#000" text-anchor="middle" font-weight="bold">Mellitus</text>
<text transform="translate(523.40 561.90) scale(1.020 1)" font-size="11.55" fill="#000" text-anchor="middle" font-weight="normal" stroke="#000" stroke-width="0.45" letter-spacing="0.78" style="font-kerning:none">196</text>
<text transform="translate(618.00 533.00) scale(0.920 1)" font-size="12.20" fill="#000" text-anchor="middle" font-weight="bold">Diabetes</text>
<text transform="translate(618.00 547.45) scale(0.920 1)" font-size="12.20" fill="#000" text-anchor="middle" font-weight="bold">Mellitus</text>
<text transform="translate(618.40 561.90) scale(1.020 1)" font-size="11.55" fill="#000" text-anchor="middle" font-weight="normal" stroke="#000" stroke-width="0.45" letter-spacing="0.78" style="font-kerning:none">646</text>
<text transform="translate(713.50 533.00) scale(0.920 1)" font-size="12.20" fill="#000" text-anchor="middle" font-weight="bold">Diabetes</text>
<text transform="translate(713.50 547.45) scale(0.920 1)" font-size="12.20" fill="#000" text-anchor="middle" font-weight="bold">Mellitus</text>
<text transform="translate(713.90 561.90) scale(1.020 1)" font-size="11.55" fill="#000" text-anchor="middle" font-weight="normal" stroke="#000" stroke-width="0.45" letter-spacing="0.78" style="font-kerning:none">1,867</text>
<text transform="translate(809.00 533.00) scale(0.920 1)" font-size="12.20" fill="#000" text-anchor="middle" font-weight="bold">Cerebro-</text>
<text transform="translate(809.00 547.45) scale(0.920 1)" font-size="12.20" fill="#000" text-anchor="middle" font-weight="bold">vascular</text>
<text transform="translate(809.40 561.90) scale(1.020 1)" font-size="11.55" fill="#000" text-anchor="middle" font-weight="normal" stroke="#000" stroke-width="0.45" letter-spacing="0.78" style="font-kerning:none">5,654</text>
<text transform="translate(904.00 533.00) scale(0.920 1)" font-size="12.20" fill="#000" text-anchor="middle" font-weight="bold">Cerebro-</text>
<text transform="translate(904.00 547.45) scale(0.920 1)" font-size="12.20" fill="#000" text-anchor="middle" font-weight="bold">vascular</text>
<text transform="translate(904.40 561.90) scale(1.020 1)" font-size="11.55" fill="#000" text-anchor="middle" font-weight="normal" stroke="#000" stroke-width="0.45" letter-spacing="0.78" style="font-kerning:none">11,070</text>
<text transform="translate(999.00 533.00) scale(0.920 1)" font-size="12.20" fill="#fff" text-anchor="middle" font-weight="bold">Unintentional</text>
<text transform="translate(999.00 547.45) scale(0.920 1)" font-size="12.20" fill="#fff" text-anchor="middle" font-weight="bold">Injury</text>
<text transform="translate(999.40 561.90) scale(1.020 1)" font-size="11.55" fill="#fff" text-anchor="middle" font-weight="normal" stroke="#fff" stroke-width="0.45" letter-spacing="0.78" style="font-kerning:none">44,698</text>
<text transform="translate(1094.50 533.00) scale(0.920 1)" font-size="12.20" fill="#000" text-anchor="middle" font-weight="bold">Diabetes</text>
<text transform="translate(1094.50 547.45) scale(0.920 1)" font-size="12.20" fill="#000" text-anchor="middle" font-weight="bold">Mellitus</text>
<text transform="translate(1094.90 561.90) scale(1.020 1)" font-size="11.55" fill="#000" text-anchor="middle" font-weight="normal" stroke="#000" stroke-width="0.45" letter-spacing="0.78" style="font-kerning:none">73,932</text>
<text transform="translate(67.00 610.25) scale(1.020 1)" font-size="11.55" fill="#000" text-anchor="middle" font-weight="normal" stroke="#000" stroke-width="0.45" style="font-kerning:none">8</text>
<text transform="translate(142.50 596.00) scale(0.920 1)" font-size="12.20" fill="#000" text-anchor="middle" font-weight="bold">Respiratory</text>
<text transform="translate(142.50 610.45) scale(0.920 1)" font-size="12.20" fill="#000" text-anchor="middle" font-weight="bold">Distress</text>
<text transform="translate(142.90 624.90) scale(1.020 1)" font-size="11.55" fill="#000" text-anchor="middle" font-weight="normal" stroke="#000" stroke-width="0.45" letter-spacing="0.78" style="font-kerning:none">504</text>
<text transform="translate(238.00 596.00) scale(0.920 1)" font-size="12.20" fill="#000" text-anchor="middle" font-weight="bold">Cerebro-</text>
<text transform="translate(238.00 610.45) scale(0.920 1)" font-size="12.20" fill="#000" text-anchor="middle" font-weight="bold">vascular</text>
<text transform="translate(238.40 624.90) scale(1.020 1)" font-size="11.55" fill="#000" text-anchor="middle" font-weight="normal" stroke="#000" stroke-width="0.45" letter-spacing="0.78" style="font-kerning:none">56</text>
<text transform="translate(333.00 596.00) scale(0.920 1)" font-size="12.20" fill="#000" text-anchor="middle" font-weight="bold">Influenza &amp;</text>
<text transform="translate(333.00 610.45) scale(0.920 1)" font-size="12.20" fill="#000" text-anchor="middle" font-weight="bold">Pneumonia</text>
<text transform="translate(333.40 624.90) scale(1.020 1)" font-size="11.55" fill="#000" text-anchor="middle" font-weight="normal" stroke="#000" stroke-width="0.45" letter-spacing="0.78" style="font-kerning:none">44</text>
<text transform="translate(428.00 596.00) scale(0.920 1)" font-size="12.20" fill="#000" text-anchor="middle" font-weight="bold">Cerebro-</text>
<text transform="translate(428.00 610.45) scale(0.920 1)" font-size="12.20" fill="#000" text-anchor="middle" font-weight="bold">vascular</text>
<text transform="translate(428.40 624.90) scale(1.020 1)" font-size="11.55" fill="#000" text-anchor="middle" font-weight="normal" stroke="#000" stroke-width="0.45" letter-spacing="0.78" style="font-kerning:none">51</text>
<text transform="translate(523.00 596.00) scale(0.920 1)" font-size="12.20" fill="#000" text-anchor="middle" font-weight="bold">Cerebro-</text>
<text transform="translate(523.00 610.45) scale(0.920 1)" font-size="12.20" fill="#000" text-anchor="middle" font-weight="bold">vascular</text>
<text transform="translate(523.40 624.90) scale(1.020 1)" font-size="11.55" fill="#000" text-anchor="middle" font-weight="normal" stroke="#000" stroke-width="0.45" letter-spacing="0.78" style="font-kerning:none">183</text>
<text transform="translate(618.00 596.00) scale(0.920 1)" font-size="12.20" fill="#000" text-anchor="middle" font-weight="bold">Liver</text>
<text transform="translate(618.00 610.45) scale(0.920 1)" font-size="12.20" fill="#000" text-anchor="middle" font-weight="bold">Disease</text>
<text transform="translate(618.40 624.90) scale(1.020 1)" font-size="11.55" fill="#000" text-anchor="middle" font-weight="normal" stroke="#000" stroke-width="0.45" letter-spacing="0.78" style="font-kerning:none">597</text>
<text transform="translate(713.50 596.00) scale(0.920 1)" font-size="12.20" fill="#000" text-anchor="middle" font-weight="bold">Cerebro-</text>
<text transform="translate(713.50 610.45) scale(0.920 1)" font-size="12.20" fill="#000" text-anchor="middle" font-weight="bold">vascular</text>
<text transform="translate(713.90 624.90) scale(1.020 1)" font-size="11.55" fill="#000" text-anchor="middle" font-weight="normal" stroke="#000" stroke-width="0.45" letter-spacing="0.78" style="font-kerning:none">1,730</text>
<text transform="translate(809.00 588.77) scale(0.920 1)" font-size="12.20" fill="#000" text-anchor="middle" font-weight="bold">Chronic Low.</text>
<text transform="translate(809.00 603.22) scale(0.920 1)" font-size="12.20" fill="#000" text-anchor="middle" font-weight="bold">Respiratory</text>
<text transform="translate(809.00 617.67) scale(0.920 1)" font-size="12.20" fill="#000" text-anchor="middle" font-weight="bold">Disease</text>
<text transform="translate(809.40 632.12) scale(1.020 1)" font-size="11.55" fill="#000" text-anchor="middle" font-weight="normal" stroke="#000" stroke-width="0.45" letter-spacing="0.78" style="font-kerning:none">4,533</text>
<text transform="translate(904.00 603.22) scale(0.920 1)" font-size="12.20" fill="#fff" text-anchor="middle" font-weight="bold">Suicide</text>
<text transform="translate(904.40 617.67) scale(1.020 1)" font-size="11.55" fill="#fff" text-anchor="middle" font-weight="normal" stroke="#fff" stroke-width="0.45" letter-spacing="0.78" style="font-kerning:none">6,929</text>
<text transform="translate(999.00 596.00) scale(0.920 1)" font-size="12.20" fill="#000" text-anchor="middle" font-weight="bold">Influenza &amp;</text>
<text transform="translate(999.00 610.45) scale(0.920 1)" font-size="12.20" fill="#000" text-anchor="middle" font-weight="bold">Pneumonia</text>
<text transform="translate(999.40 624.90) scale(1.020 1)" font-size="11.55" fill="#000" text-anchor="middle" font-weight="normal" stroke="#000" stroke-width="0.45" letter-spacing="0.78" style="font-kerning:none">43,355</text>
<text transform="translate(1094.50 596.00) scale(0.920 1)" font-size="12.20" fill="#000" text-anchor="middle" font-weight="bold">Influenza &amp;</text>
<text transform="translate(1094.50 610.45) scale(0.920 1)" font-size="12.20" fill="#000" text-anchor="middle" font-weight="bold">Pneumonia</text>
<text transform="translate(1094.90 624.90) scale(1.020 1)" font-size="11.55" fill="#000" text-anchor="middle" font-weight="normal" stroke="#000" stroke-width="0.45" letter-spacing="0.78" style="font-kerning:none">50,636</text>
<text transform="translate(67.00 673.25) scale(1.020 1)" font-size="11.55" fill="#000" text-anchor="middle" font-weight="normal" stroke="#000" stroke-width="0.45" style="font-kerning:none">9</text>
<text transform="translate(142.50 651.77) scale(0.920 1)" font-size="12.20" fill="#000" text-anchor="middle" font-weight="bold">Circulatory</text>
<text transform="translate(142.50 666.22) scale(0.920 1)" font-size="12.20" fill="#000" text-anchor="middle" font-weight="bold">System</text>
<text transform="translate(142.50 680.67) scale(0.920 1)" font-size="12.20" fill="#000" text-anchor="middle" font-weight="bold">Disease</text>
<text transform="translate(142.90 695.12) scale(1.020 1)" font-size="11.55" fill="#000" text-anchor="middle" font-weight="normal" stroke="#000" stroke-width="0.45" letter-spacing="0.78" style="font-kerning:none">492</text>
<text transform="translate(238.00 659.00) scale(0.920 1)" font-size="12.20" fill="#000" text-anchor="middle" font-weight="bold">Benign</text>
<text transform="translate(238.00 673.45) scale(0.920 1)" font-size="12.20" fill="#000" text-anchor="middle" font-weight="bold">Neoplasms</text>
<text transform="translate(238.40 687.90) scale(1.020 1)" font-size="11.55" fill="#000" text-anchor="middle" font-weight="normal" stroke="#000" stroke-width="0.45" letter-spacing="0.78" style="font-kerning:none">55</text>
<text transform="translate(333.00 659.00) scale(0.920 1)" font-size="12.20" fill="#000" text-anchor="middle" font-weight="bold">Cerebro-</text>
<text transform="translate(333.00 673.45) scale(0.920 1)" font-size="12.20" fill="#000" text-anchor="middle" font-weight="bold">vascular</text>
<text transform="translate(333.40 687.90) scale(1.020 1)" font-size="11.55" fill="#000" text-anchor="middle" font-weight="normal" stroke="#000" stroke-width="0.45" letter-spacing="0.78" style="font-kerning:none">34</text>
<text transform="translate(428.00 659.00) scale(0.920 1)" font-size="12.20" fill="#000" text-anchor="middle" font-weight="bold">Influenza &amp;</text>
<text transform="translate(428.00 673.45) scale(0.920 1)" font-size="12.20" fill="#000" text-anchor="middle" font-weight="bold">Pneumonia</text>
<text transform="translate(428.40 687.90) scale(1.020 1)" font-size="11.55" fill="#000" text-anchor="middle" font-weight="normal" stroke="#000" stroke-width="0.45" letter-spacing="0.78" style="font-kerning:none">41</text>
<text transform="translate(523.00 659.00) scale(0.920 1)" font-size="12.20" fill="#000" text-anchor="middle" font-weight="bold">Complicated</text>
<text transform="translate(523.00 673.45) scale(0.920 1)" font-size="12.20" fill="#000" text-anchor="middle" font-weight="bold">Pregnancy</text>
<text transform="translate(523.40 687.90) scale(1.020 1)" font-size="11.55" fill="#000" text-anchor="middle" font-weight="normal" stroke="#000" stroke-width="0.45" letter-spacing="0.78" style="font-kerning:none">169</text>
<text transform="translate(618.00 659.00) scale(0.920 1)" font-size="12.20" fill="#000" text-anchor="middle" font-weight="bold">Cerebro-</text>
<text transform="translate(618.00 673.45) scale(0.920 1)" font-size="12.20" fill="#000" text-anchor="middle" font-weight="bold">vascular</text>
<text transform="translate(618.40 687.90) scale(1.020 1)" font-size="11.55" fill="#000" text-anchor="middle" font-weight="normal" stroke="#000" stroke-width="0.45" letter-spacing="0.78" style="font-kerning:none">535</text>
<text transform="translate(713.50 666.22) scale(0.920 1)" font-size="12.20" fill="#000" text-anchor="middle" font-weight="bold">HIV</text>
<text transform="translate(713.90 680.67) scale(1.020 1)" font-size="11.55" fill="#000" text-anchor="middle" font-weight="normal" stroke="#000" stroke-width="0.45" letter-spacing="0.78" style="font-kerning:none">1,345</text>
<text transform="translate(809.00 666.22) scale(0.920 1)" font-size="12.20" fill="#000" text-anchor="middle" font-weight="bold">HIV</text>
<text transform="translate(809.40 680.67) scale(1.020 1)" font-size="11.55" fill="#000" text-anchor="middle" font-weight="normal" stroke="#000" stroke-width="0.45" letter-spacing="0.78" style="font-kerning:none">2,582</text>
<text transform="translate(904.00 666.22) scale(0.920 1)" font-size="12.20" fill="#000" text-anchor="middle" font-weight="bold">Septicemia</text>
<text transform="translate(904.40 680.67) scale(1.020 1)" font-size="11.55" fill="#000" text-anchor="middle" font-weight="normal" stroke="#000" stroke-width="0.45" letter-spacing="0.78" style="font-kerning:none">4,982</text>
<text transform="translate(999.00 666.22) scale(0.920 1)" font-size="12.20" fill="#000" text-anchor="middle" font-weight="bold">Nephritis</text>
<text transform="translate(999.40 680.67) scale(1.020 1)" font-size="11.55" fill="#000" text-anchor="middle" font-weight="normal" stroke="#000" stroke-width="0.45" letter-spacing="0.78" style="font-kerning:none">37,740</text>
<text transform="translate(1094.50 666.22) scale(0.920 1)" font-size="12.20" fill="#000" text-anchor="middle" font-weight="bold">Nephritis</text>
<text transform="translate(1094.90 680.67) scale(1.020 1)" font-size="11.55" fill="#000" text-anchor="middle" font-weight="normal" stroke="#000" stroke-width="0.45" letter-spacing="0.78" style="font-kerning:none">45,622</text>
<text transform="translate(67.00 735.75) scale(1.020 1)" font-size="11.55" fill="#000" text-anchor="middle" font-weight="normal" stroke="#000" stroke-width="0.45" style="font-kerning:none">10</text>
<text transform="translate(142.50 721.50) scale(0.920 1)" font-size="12.20" fill="#000" text-anchor="middle" font-weight="bold">Neonatal</text>
<text transform="translate(142.50 735.95) scale(0.920 1)" font-size="12.20" fill="#000" text-anchor="middle" font-weight="bold">Hemorrhage</text>
<text transform="translate(142.90 750.40) scale(1.020 1)" font-size="11.55" fill="#000" text-anchor="middle" font-weight="normal" stroke="#000" stroke-width="0.45" letter-spacing="0.78" style="font-kerning:none">422</text>
<text transform="translate(238.00 714.27) scale(0.920 1)" font-size="12.20" fill="#000" text-anchor="middle" font-weight="bold">Chronic Low</text>
<text transform="translate(238.00 728.72) scale(0.920 1)" font-size="12.20" fill="#000" text-anchor="middle" font-weight="bold">Respiratory</text>
<text transform="translate(238.00 743.17) scale(0.920 1)" font-size="12.20" fill="#000" text-anchor="middle" font-weight="bold">Disease</text>
<text transform="translate(238.40 757.62) scale(1.020 1)" font-size="11.55" fill="#000" text-anchor="middle" font-weight="normal" stroke="#000" stroke-width="0.45" letter-spacing="0.78" style="font-kerning:none">51</text>
<text transform="translate(333.00 728.72) scale(0.920 1)" font-size="12.20" fill="#000" text-anchor="middle" font-weight="bold">Septicemia</text>
<text transform="translate(333.40 743.17) scale(1.020 1)" font-size="11.55" fill="#000" text-anchor="middle" font-weight="normal" stroke="#000" stroke-width="0.45" letter-spacing="0.78" style="font-kerning:none">26</text>
<text transform="translate(428.00 721.50) scale(0.920 1)" font-size="12.20" fill="#000" text-anchor="middle" font-weight="bold">Benign</text>
<text transform="translate(428.00 735.95) scale(0.920 1)" font-size="12.20" fill="#000" text-anchor="middle" font-weight="bold">Neoplasms</text>
<text transform="translate(428.40 750.40) scale(1.020 1)" font-size="11.55" fill="#000" text-anchor="middle" font-weight="normal" stroke="#000" stroke-width="0.45" letter-spacing="0.78" style="font-kerning:none">40</text>
<text transform="translate(523.00 721.50) scale(0.920 1)" font-size="12.20" fill="#000" text-anchor="middle" font-weight="bold">Influenza &amp;</text>
<text transform="translate(523.00 735.95) scale(0.920 1)" font-size="12.20" fill="#000" text-anchor="middle" font-weight="bold">Pneumonia</text>
<text transform="translate(523.40 750.40) scale(1.020 1)" font-size="11.55" fill="#000" text-anchor="middle" font-weight="normal" stroke="#000" stroke-width="0.45" letter-spacing="0.78" style="font-kerning:none">147</text>
<text transform="translate(618.00 721.50) scale(0.920 1)" font-size="12.20" fill="#000" text-anchor="middle" font-weight="bold">Congenital</text>
<text transform="translate(618.00 735.95) scale(0.920 1)" font-size="12.20" fill="#000" text-anchor="middle" font-weight="bold">Anomalies</text>
<text transform="translate(618.40 750.40) scale(1.020 1)" font-size="11.55" fill="#000" text-anchor="middle" font-weight="normal" stroke="#000" stroke-width="0.45" letter-spacing="0.78" style="font-kerning:none">401</text>
<text transform="translate(713.50 728.72) scale(0.920 1)" font-size="12.20" fill="#000" text-anchor="middle" font-weight="bold">Septicemia</text>
<text transform="translate(713.90 743.17) scale(1.020 1)" font-size="11.55" fill="#000" text-anchor="middle" font-weight="normal" stroke="#000" stroke-width="0.45" letter-spacing="0.78" style="font-kerning:none">757</text>
<text transform="translate(809.00 728.72) scale(0.920 1)" font-size="12.20" fill="#000" text-anchor="middle" font-weight="bold">Septicemia</text>
<text transform="translate(809.40 743.17) scale(1.020 1)" font-size="11.55" fill="#000" text-anchor="middle" font-weight="normal" stroke="#000" stroke-width="0.45" letter-spacing="0.78" style="font-kerning:none">2,340</text>
<text transform="translate(904.00 728.72) scale(0.920 1)" font-size="12.20" fill="#000" text-anchor="middle" font-weight="bold">Nephritis</text>
<text transform="translate(904.40 743.17) scale(1.020 1)" font-size="11.55" fill="#000" text-anchor="middle" font-weight="normal" stroke="#000" stroke-width="0.45" letter-spacing="0.78" style="font-kerning:none">4,765</text>
<text transform="translate(999.00 728.72) scale(0.920 1)" font-size="12.20" fill="#000" text-anchor="middle" font-weight="bold">Septicemia</text>
<text transform="translate(999.40 743.17) scale(1.020 1)" font-size="11.55" fill="#000" text-anchor="middle" font-weight="normal" stroke="#000" stroke-width="0.45" letter-spacing="0.78" style="font-kerning:none">27,022</text>
<text transform="translate(1094.50 728.72) scale(0.920 1)" font-size="12.20" fill="#fff" text-anchor="middle" font-weight="bold">Suicide</text>
<text transform="translate(1094.90 743.17) scale(1.020 1)" font-size="11.55" fill="#fff" text-anchor="middle" font-weight="normal" stroke="#fff" stroke-width="0.45" letter-spacing="0.78" style="font-kerning:none">40,600</text>
</g>
<g font-family="'Liberation Sans', Arial, sans-serif" font-size="12.23" fill="#000">
<text x="41.3" y="783"><tspan font-weight="bold">Data Source:</tspan> National Vital Statistics System, National Center for Health Statistics, CDC.</text>
<text x="41.3" y="796.6"><tspan font-weight="bold">Produced by:</tspan> National Center for Injury Prevention and Control, CDC using WISQARS™.</text>
</g>
<g id="logo">
<rect x="882" y="764.8" width="109.3" height="63" rx="9" ry="9" fill="#0055ff"/>
<defs><path id="hhsarc" d="M911.78 816.49 A20.60 20.60 0 1 1 926.13 781.85"/></defs>
<text font-family="'Liberation Sans', Arial, sans-serif" font-weight="bold" font-size="4.3" fill="#fff" stroke="#fff" stroke-width="0.3"><textPath href="#hhsarc" textLength="81.8" lengthAdjust="spacingAndGlyphs">DEPARTMENT OF HEALTH &amp; HUMAN SERVICES · USA</textPath></text>
<g fill="none" stroke="#fff" stroke-width="2.7" stroke-linejoin="round" stroke-linecap="butt">
<path d="M930.52 778.18 L920.86 787.33 L914.61 793.45 L913.12 796.99 L912.87 801.18 L905.26 802.02 L901.53 806.40"/>
<path d="M933.94 781.40 L925.75 787.33 L919.12 793.45 L917.18 796.99 L916.86 802.15 L919.44 807.30 L922.66 809.88"/>
<path d="M932.45 788.75 L924.72 793.77 L922.34 796.99 L921.89 801.51 L923.30 805.05 L925.88 806.02"/>
<path d="M901.27 806.53 L905.26 805.69 L919.12 811.04 L917.51 814.52 L915.06 816.97"/>
<path d="M922.53 809.75 L920.40 813.10 L922.02 815.55 L924.72 815.55"/>
</g>
<path d="M924.59 805.37 L929.10 804.21 L935.87 805.50 L932.97 806.98 L929.10 807.43 L925.24 806.66 Z" fill="#fff"/>
<path d="M916.22 815.36 L913.96 817.61 L914.80 820.19 L919.76 819.55 L917.51 818.26 L917.18 816.32 Z" fill="#fff"/>
<rect x="941.00" y="783.90" width="42.00" height="26.00" fill="#fff"/>
<rect x="941.00" y="808.00" width="43.60" height="1.9" fill="#fff"/>
<clipPath id="cdcclip"><rect x="942.90" y="785.10" width="38.00" height="22.70"/></clipPath>
<text transform="translate(962.6 799.8) scale(1.1 1)" font-family="'Liberation Sans', Arial, sans-serif" font-weight="bold" font-size="15.4" fill="#fff" stroke="#fff" stroke-width="0.9" stroke-linejoin="round" text-anchor="middle">CDC</text>
<g clip-path="url(#cdcclip)" fill="#0055ff">
<path d="M943.05 785.10 L944.20 785.10 L944.20 807.81 L943.05 807.81 Z"/>
<path d="M945.73 785.10 L947.44 785.10 L946.49 789.68 L945.15 789.68 Z"/>
<path d="M948.97 785.10 L950.88 785.10 L949.73 788.73 L948.02 788.73 Z"/>
<path d="M952.21 785.10 L954.12 785.10 L952.98 788.34 L951.26 788.34 Z"/>
<path d="M955.65 785.10 L957.94 785.10 L956.60 788.53 L954.69 788.53 Z"/>
<path d="M959.08 785.10 L961.76 785.10 L960.61 787.96 L958.13 787.96 Z"/>
<path d="M962.90 785.10 L967.86 785.10 L966.34 788.34 L962.52 786.82 Z"/>
<path d="M968.44 785.10 L973.02 785.10 L970.15 790.25 L968.24 791.40 L966.72 788.73 Z"/>
<path d="M974.35 785.10 L980.08 785.10 L976.64 787.58 L973.21 787.58 Z"/>
<path d="M979.89 786.82 L981.03 786.82 L981.03 807.81 L979.89 807.81 Z"/>
<path d="M948.47 790.63 L950.00 790.06 L949.24 798.65 L947.82 798.08 Z"/>
<path d="M950.76 789.56 L952.60 789.56 L951.45 799.41 L949.73 799.41 Z"/>
<path d="M953.36 791.21 L954.96 791.59 L954.05 798.84 L952.29 799.03 Z"/>
<path d="M955.57 794.07 L956.79 794.07 L956.22 798.27 L954.89 798.46 Z"/>
<path d="M960.23 790.06 L962.52 789.68 L964.24 793.69 L963.66 797.50 L961.37 799.03 L960.04 796.36 Z"/>
<path d="M973.21 792.54 L976.64 789.49 L979.89 789.49 L979.89 799.79 L975.50 799.79 L973.21 797.50 Z"/>
<path d="M944.96 800.18 L946.11 799.79 L947.63 807.43 L946.49 807.81 Z"/>
<path d="M947.06 801.32 L948.21 801.32 L948.97 807.62 L947.82 807.62 Z"/>
<path d="M949.73 801.70 L951.07 801.70 L950.88 807.62 L949.54 807.62 Z"/>
<path d="M952.60 807.81 L954.31 807.81 L956.22 800.94 L955.08 800.94 Z"/>
<path d="M955.46 807.81 L957.18 807.81 L960.61 801.32 L959.27 801.32 Z"/>
<path d="M957.94 807.81 L959.85 807.81 L964.81 800.94 L963.28 801.32 Z"/>
<path d="M960.42 807.81 L964.81 807.81 L971.68 799.79 L968.44 799.03 Z"/>
<path d="M966.15 807.81 L970.92 807.81 L978.55 802.08 L973.59 801.89 Z"/>
<path d="M971.87 807.81 L979.89 807.81 L979.89 802.47 L978.17 803.23 Z"/>
</g>
<g fill="#fff">
<path d="M960.42 798.46 L960.99 798.84 L964.43 794.45 L963.85 794.07 Z"/>
<path d="M973.02 794.45 L973.59 795.21 L980.08 790.44 L979.69 789.68 Z"/>
<path d="M974.35 799.22 L974.92 799.98 L981.03 795.79 L981.03 794.83 Z"/>
</g>
<g font-family="'Liberation Sans', Arial, sans-serif" font-size="9.3" fill="#0f4dff" stroke="#0f4dff" stroke-width="0.25">
<text transform="translate(1001.3 783.80) scale(0.946 1)" font-weight="bold">Centers for Disease</text>
<text transform="translate(1001.3 794.20) scale(0.972 1)" font-weight="bold">Control and Prevention</text>
<text transform="translate(1001.3 804.60) scale(0.974 1)">National Center for Injury</text>
<text transform="translate(1001.3 815.30) scale(0.974 1)">Prevention and Control</text>
</g>
</g>
</svg>
</body></html>
